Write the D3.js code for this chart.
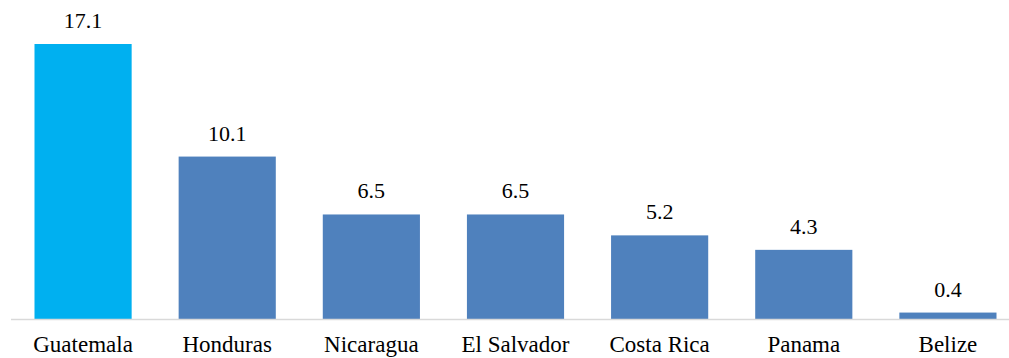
<!DOCTYPE html>
<html>
<head>
<meta charset="utf-8">
<script src="https://cdn.jsdelivr.net/npm/d3@7"></script>
</head>
<body style="margin:0">
<svg id="chart" width="1009" height="358"></svg>
<script>
const countries = ["Guatemala", "Honduras", "Nicaragua", "El Salvador", "Costa Rica", "Panama", "Belize"];
const values = [17.1, 10.1, 6.5, 6.5, 5.2, 4.3, 0.4];
const colors = ["#00B0F0", "#4F81BD", "#4F81BD", "#4F81BD", "#4F81BD", "#4F81BD", "#4F81BD"];

const svg = d3.select("#chart");
const baseY = 319;

const x = d3.scaleBand()
  .domain(countries)
  .range([11, 1020])
  .paddingInner(0.326)
  .paddingOuter(0.163);

const y = d3.scaleLinear()
  .domain([0, 17.1])
  .range([baseY, 44]);

const data = countries.map((c, i) => ({ c, v: values[i], col: colors[i] }));

svg.selectAll("rect.bar")
  .data(data)
  .join("rect")
  .attr("class", "bar")
  .attr("x", d => x(d.c))
  .attr("width", x.bandwidth())
  .attr("y", d => y(d.v))
  .attr("height", d => baseY - y(d.v))
  .attr("fill", d => d.col);

// baseline
svg.append("line")
  .attr("x1", 11).attr("x2", 1009)
  .attr("y1", baseY + 0.5).attr("y2", baseY + 0.5)
  .attr("stroke", "#d9d9d9").attr("stroke-width", 1.5);

// value labels above the bars
data.forEach(d => {
  svg.append("text")
    .attr("x", x(d.c) + x.bandwidth() / 2)
    .attr("y", y(d.v) - 16)
    .attr("text-anchor", "middle")
    .style("font-family", "Times New Roman")
    .style("font-size", "22px")
    .text(d.v.toFixed(1));
});

// category labels from the band axis
const xAxis = d3.axisBottom(x).tickSize(0).tickPadding(0);
const gx = svg.append("g").attr("transform", `translate(0,${baseY})`).call(xAxis);
gx.select(".domain").remove();
gx.attr("font-family", null).attr("font-size", null);
gx.selectAll("text")
  .style("font-family", "Times New Roman")
  .style("font-size", "23px")
  .attr("fill", "#000")
  .attr("dy", null)
  .attr("y", 33);
</script>
</body>
</html>
